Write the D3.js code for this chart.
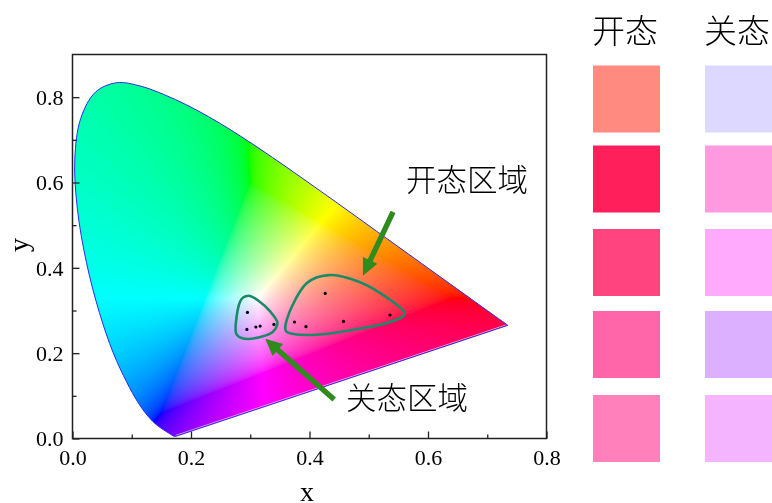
<!DOCTYPE html>
<html>
<head>
<meta charset="utf-8">
<script src="https://cdn.jsdelivr.net/npm/d3@7"></script>
<style>
html, body { margin: 0; padding: 0; background: #fff; overflow: hidden; }
#chart { position: relative; width: 772px; height: 503px; }
#chart canvas, #chart svg { position: absolute; left: 0; top: 0; }
.num { font-family: "Liberation Serif", serif; fill: #000; }
.cjk { font-family: "Noto Sans CJK SC", sans-serif; font-weight: 300; fill: #000; }
</style>
</head>
<body>
<div id="chart"></div>
<script>
const width = 772;
const height = 503;
const margin = { top: 54.5, right: 225.5, bottom: 64.5, left: 72.5 };

const xTicks = [0, 0.2, 0.4, 0.6, 0.8];
const yTicks = [0, 0.2, 0.4, 0.6, 0.8];
const xMinor = [0.1, 0.3, 0.5, 0.7];
const yMinor = [0.1, 0.3, 0.5, 0.7];

// CIE 1931 spectral locus, 380-700 nm
const locus = [
  [.1741,.0050],[.1738,.0049],[.1733,.0048],[.1726,.0048],[.1714,.0051],[.1703,.0058],
  [.1689,.0069],[.1669,.0086],[.1644,.0109],[.1611,.0138],[.1566,.0177],[.1510,.0227],
  [.1440,.0297],[.1355,.0399],[.1241,.0578],[.1096,.0868],[.0913,.1327],[.0687,.2007],
  [.0454,.2950],[.0235,.4127],[.0082,.5384],[.0039,.6548],[.0139,.7502],[.0389,.8120],
  [.0743,.8338],[.1142,.8262],[.1547,.8059],[.1929,.7816],[.2296,.7543],[.2658,.7243],
  [.3016,.6923],[.3373,.6589],[.3731,.6245],[.4087,.5896],[.4441,.5547],[.4788,.5202],
  [.5125,.4866],[.5448,.4544],[.5752,.4242],[.6029,.3965],[.6270,.3725],[.6482,.3514],
  [.6658,.3340],[.6801,.3197],[.6915,.3083],[.7006,.2993],[.7079,.2920],[.7140,.2859],
  [.7190,.2809],[.7230,.2770],[.7260,.2740],[.7283,.2717],[.7300,.2700],[.7320,.2680],
  [.7334,.2666],[.7347,.2653]
];

const openPoints = [[.4265,.340],[.3747,.273],[.394,.262],[.4574,.2744],[.5358,.2894]];
const closedPoints = [[.2953,.2954],[.2943,.2557],[.3095,.2613],[.3167,.2636],[.3399,.2674]];

const openRegion = [[.4321,.3829],[.4743,.3719],[.5194,.3408],[.5605,.294],[.5307,.2706],[.4743,.255],
  [.4125,.2433],[.3703,.2456],[.359,.2589],[.3703,.3095],[.3956,.3642]];
const closedRegion = [[.297,.3345],[.3139,.3228],[.3336,.2978],[.346,.2706],[.3336,.2456],[.297,.2332],
  [.2773,.2433],[.2757,.2706],[.2829,.3212]];

const arrows = [
  { from: [.541,.531], to: [.4902,.3813] },
  { from: [.4417,.0912], to: [.3252,.2339] }
];

const openColors = ['#ff8b80', '#ff1f5a', '#ff4480', '#ff66aa', '#ff80bb'];
const closedColors = ['#dcd8ff', '#ff99e0', '#ffaafc', '#dcb0ff', '#f4b4ff'];

const x = d3.scaleLinear().domain([0, 0.8]).range([margin.left, width - margin.right]);
const y = d3.scaleLinear().domain([0, 0.9]).range([height - margin.bottom, margin.top]);

const root = d3.select("#chart");

// gamut fill goes on a canvas under the svg
const canvas = root.append("canvas").attr("width", width).attr("height", height).node();
const ctx = canvas.getContext("2d");

const gamma = c => Math.pow(c, 1 / 1.9);

// out of gamut colours get white added until no channel is negative
function xyToRgb(cx, cy) {
  const X = cx / cy, Y = 1, Z = (1 - cx - cy) / cy;
  let r =  3.2406 * X - 1.5372 * Y - 0.4986 * Z;
  let g = -0.9689 * X + 1.8758 * Y + 0.0415 * Z;
  let b =  0.0557 * X - 0.2040 * Y + 1.0570 * Z;
  const w = Math.max(0, -Math.min(r, g, b));
  r += w; g += w; b += w;
  const m = Math.max(r, g, b);
  return [gamma(r / m), gamma(g / m), gamma(b / m)].map(c => Math.round(c * 255));
}

const off = document.createElement("canvas");
off.width = width;
off.height = height;
const offCtx = off.getContext("2d");
const img = offCtx.createImageData(width, height);
for (let py = 0; py < height; py++) {
  for (let px = 0; px < width; px++) {
    const cx = x.invert(px + 0.5), cy = y.invert(py + 0.5);
    if (cx < 0 || cx > 0.8 || cy <= 0 || cy > 0.9) continue;
    const [r, g, b] = xyToRgb(cx, cy);
    const i = (py * width + px) * 4;
    img.data[i] = r; img.data[i + 1] = g; img.data[i + 2] = b; img.data[i + 3] = 255;
  }
}
offCtx.putImageData(img, 0, 0);

const line = d3.line().x(d => x(d[0])).y(d => y(d[1])).curve(d3.curveCatmullRom);
const locusPath = line(locus) + "Z";

ctx.save();
ctx.clip(new Path2D(locusPath));
ctx.drawImage(off, 0, 0);
ctx.restore();

const svg = root.append("svg").attr("width", width).attr("height", height);

// pale line just inside the purple edge
svg.append("line")
  .attr("x1", x(locus[0][0]))
  .attr("y1", y(locus[0][1]) - 1)
  .attr("x2", x(locus[locus.length - 1][0]))
  .attr("y2", y(locus[locus.length - 1][1]) - 1)
  .attr("stroke", "#fff")
  .attr("stroke-opacity", 0.6)
  .attr("stroke-width", 1);

svg.append("path")
  .attr("d", locusPath)
  .attr("fill", "none")
  .attr("stroke", "#2a2aee")
  .attr("stroke-width", 1);

// regions
const regionLine = d3.line().x(d => x(d[0])).y(d => y(d[1])).curve(d3.curveCardinalClosed.tension(0.1));
svg.selectAll(".region")
  .data([openRegion, closedRegion])
  .enter()
  .append("path")
  .attr("class", "region")
  .attr("d", regionLine)
  .attr("fill", "none")
  .attr("stroke", "#1a8a68")
  .attr("stroke-width", 2.6);

svg.selectAll(".pt")
  .data(openPoints.concat(closedPoints))
  .enter()
  .append("circle")
  .attr("class", "pt")
  .attr("cx", d => x(d[0]))
  .attr("cy", d => y(d[1]))
  .attr("r", 1.6)
  .attr("fill", "#000");

// arrows: shaft and head built along the from->to direction
function arrowPath(a) {
  const x0 = x(a.from[0]), y0 = y(a.from[1]), x1 = x(a.to[0]), y1 = y(a.to[1]);
  const len = Math.hypot(x1 - x0, y1 - y0);
  const ux = (x1 - x0) / len, uy = (y1 - y0) / len;
  const nx = -uy, ny = ux;
  const shaft = 2.7, head = 8, headLen = 17;
  const bx = x1 - ux * headLen, by = y1 - uy * headLen;
  const p = [
    [x0 + nx * shaft, y0 + ny * shaft],
    [bx + nx * shaft, by + ny * shaft],
    [bx + nx * head, by + ny * head],
    [x1, y1],
    [bx - nx * head, by - ny * head],
    [bx - nx * shaft, by - ny * shaft],
    [x0 - nx * shaft, y0 - ny * shaft]
  ];
  return "M" + p.join("L") + "Z";
}
svg.selectAll(".arrow")
  .data(arrows)
  .enter()
  .append("path")
  .attr("class", "arrow")
  .attr("d", arrowPath)
  .attr("fill", "#2e8b1c");

// frame
svg.append("rect")
  .attr("x", x(0))
  .attr("y", y(0.9))
  .attr("width", x(0.8) - x(0))
  .attr("height", y(0) - y(0.9))
  .attr("fill", "none")
  .attr("stroke", "#222")
  .attr("stroke-width", 1.5);

function tickAxis(axis, ticks, size) {
  return axis.tickValues(ticks).tickSize(size).tickSizeOuter(0);
}

const fmt = d3.format(".1f");
const gx = svg.append("g").attr("transform", `translate(0,${y(0)})`);
gx.call(tickAxis(d3.axisBottom(x), xTicks, -7).tickFormat(fmt));
const gxMinor = svg.append("g").attr("transform", `translate(0,${y(0)})`);
gxMinor.call(tickAxis(d3.axisBottom(x), xMinor, -4).tickFormat(""));
const gy = svg.append("g").attr("transform", `translate(${x(0)},0)`);
gy.call(tickAxis(d3.axisLeft(y), yTicks, -7).tickFormat(fmt));
const gyMinor = svg.append("g").attr("transform", `translate(${x(0)},0)`);
gyMinor.call(tickAxis(d3.axisLeft(y), yMinor, -4).tickFormat(""));

svg.selectAll("g .domain").remove();
svg.selectAll("g .tick line").attr("stroke", "#222").attr("stroke-width", 1.3);
gx.selectAll("text").attr("class", "num").attr("font-size", 22).attr("dy", 0).attr("y", 26);
gy.selectAll("text").attr("class", "num").attr("font-size", 22).attr("x", -9).attr("dy", "0.33em");

svg.append("text").attr("class", "num").attr("x", 307).attr("y", 501)
  .attr("text-anchor", "middle").attr("font-size", 28).text("x");
svg.append("text").attr("class", "num")
  .attr("transform", "translate(28,245) rotate(-90)")
  .attr("text-anchor", "middle").attr("font-size", 28).text("y");

svg.append("text").attr("class", "cjk").attr("x", 406).attr("y", 191).attr("font-size", 30.5).text("开态区域");
svg.append("text").attr("class", "cjk").attr("x", 346).attr("y", 409).attr("font-size", 30.5).text("关态区域");

// swatch columns
const rowTops = [65.5, 145.5, 229, 311, 395];
const columns = [
  { title: "开态", left: 593, colors: openColors },
  { title: "关态", left: 705, colors: closedColors }
];
columns.forEach(col => {
  svg.append("text").attr("class", "cjk").attr("x", col.left - 1).attr("y", 43)
    .attr("font-size", 33).text(col.title);
  svg.selectAll(null)
    .data(col.colors)
    .enter()
    .append("rect")
    .attr("x", col.left)
    .attr("y", (d, i) => rowTops[i])
    .attr("width", 67)
    .attr("height", 67)
    .attr("fill", d => d);
});
</script>
</body>
</html>
